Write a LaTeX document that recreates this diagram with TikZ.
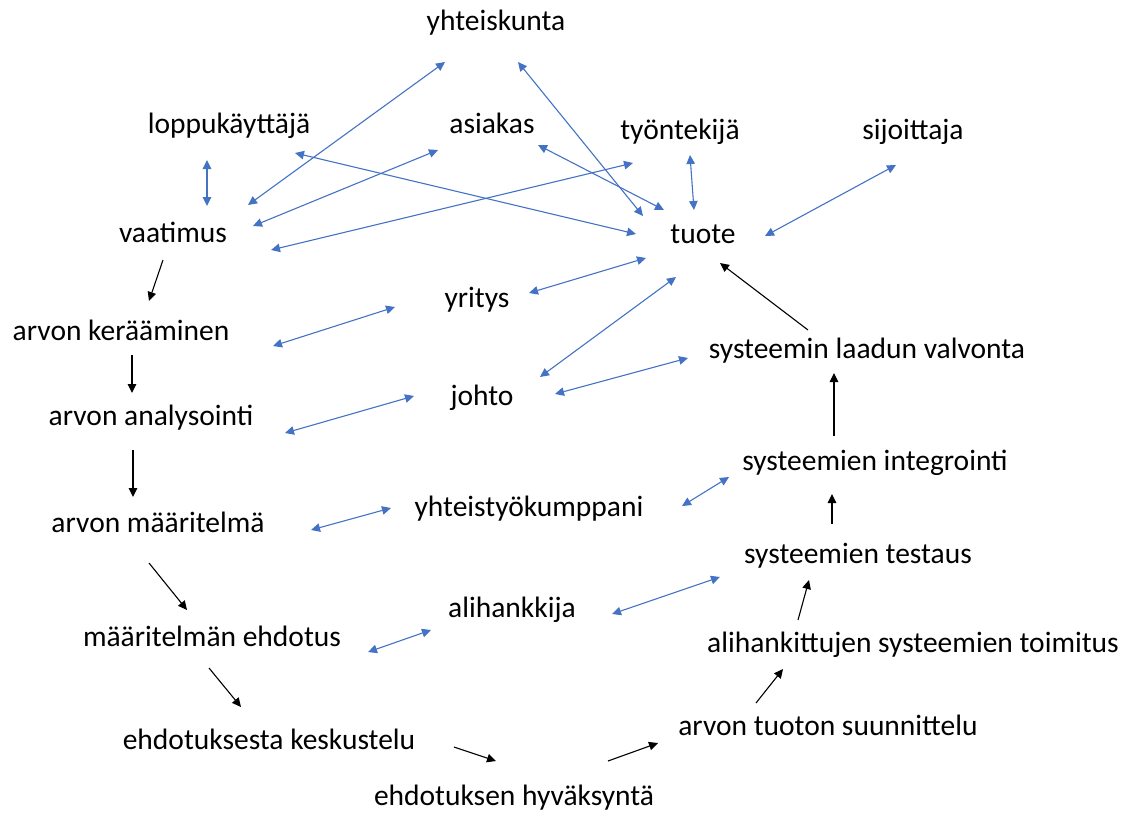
\documentclass[tikz,border=0pt]{standalone}
\usepackage{fontspec}
\setmainfont{Carlito}
\usetikzlibrary{arrows.meta}

\definecolor{linkblue}{HTML}{4472C4}

\tikzset{
  lbl/.style={inner sep=0pt, text height=22pt, text depth=7.4pt,
    font=\fontsize{29.5}{35}\selectfont},
  link/.style={linkblue, line width=1.1pt,
    {Triangle[length=9pt,width=8.5pt]}-{Triangle[length=9pt,width=8.5pt]}},
  flow/.style={black, line width=1.1pt, -{Triangle[length=9pt,width=8.5pt]}}
}

\begin{document}
\begin{tikzpicture}[x=1pt, y=-1pt]
\useasboundingbox (0,0) rectangle (1133,812);

% stakeholders
\node[lbl] (yhteiskunta) at (496,23) {yhteiskunta};
\node[lbl] (loppu) at (229,126) {loppukäyttäjä};
\node[lbl] (asiakas) at (492,126) {asiakas};
\node[lbl] (tyontekija) at (680,132) {työntekijä};
\node[lbl] (sijoittaja) at (913,132) {sijoittaja};
\node[lbl] (tuote) at (703,236) {tuote};
\node[lbl] (yritys) at (477,300) {yritys};
\node[lbl] (johto) at (482,398) {johto};
\node[lbl] (yhteistyo) at (529,509) {yhteistyökumppani};
\node[lbl] (alihankkija) at (512,610) {alihankkija};

% value chain
\node[lbl] (vaatimus) at (173,235) {vaatimus};
\node[lbl] (keraaminen) at (121,333) {arvon kerääminen};
\node[lbl] (analysointi) at (151,418) {arvon analysointi};
\node[lbl] (maaritelma) at (158,525) {arvon määritelmä};
\node[lbl] (ehdotus) at (212,639) {määritelmän ehdotus};
\node[lbl] (keskustelu) at (269,742) {ehdotuksesta keskustelu};
\node[lbl] (hyvaksynta) at (514,798) {ehdotuksen hyväksyntä};
\node[lbl] (suunnittelu) at (828,728) {arvon tuoton suunnittelu};
\node[lbl] (toimitus) at (913,645) {alihankittujen systeemien toimitus};
\node[lbl] (testaus) at (858,556) {systeemien testaus};
\node[lbl] (integrointi) at (875,463) {systeemien integrointi};
\node[lbl] (valvonta) at (867,351) {systeemin laadun valvonta};

% two-way links
\draw[link] ([shift={(-22,34)}]loppu.center) -- ([shift={(34,-29)}]vaatimus.center);
\draw[link] ([shift={(-51,39)}]yhteiskunta.center) -- ([shift={(75,-30)}]vaatimus.center);
\draw[link] ([shift={(22,39)}]yhteiskunta.center) -- ([shift={(-60,-20)}]tuote.center);
\draw[link] ([shift={(-54,24)}]asiakas.center) -- ([shift={(80,-9)}]vaatimus.center);
\draw[link] ([shift={(-47,31)}]tyontekija.center) -- ([shift={(98,15)}]vaatimus.center);
\draw[link] ([shift={(66,27)}]loppu.center) -- ([shift={(-67,-2)}]tuote.center);
\draw[link] ([shift={(46,19)}]asiakas.center) -- ([shift={(-39,-26)}]tuote.center);
\draw[link] ([shift={(10,23)}]tyontekija.center) -- ([shift={(-9,-26)}]tuote.center);
\draw[link] ([shift={(-17,33)}]sijoittaja.center) -- ([shift={(62,0)}]tuote.center);
\draw[link] ([shift={(52,-7)}]yritys.center) -- ([shift={(-57,22)}]tuote.center);
\draw[link] ([shift={(58,-21)}]johto.center) -- ([shift={(-27,41)}]tuote.center);
\draw[link] ([shift={(152,13)}]keraaminen.center) -- ([shift={(-82,7)}]yritys.center);
\draw[link] ([shift={(73,-4)}]johto.center) -- ([shift={(-179,7)}]valvonta.center);
\draw[link] ([shift={(134,15)}]analysointi.center) -- ([shift={(-68,-2)}]johto.center);
\draw[link] ([shift={(153,5)}]maaritelma.center) -- ([shift={(-138,-1)}]yhteistyo.center);
\draw[link] ([shift={(153,-3)}]yhteistyo.center) -- ([shift={(-146,14)}]integrointi.center);
\draw[link] ([shift={(100,4)}]alihankkija.center) -- ([shift={(-138,21)}]testaus.center);
\draw[link] ([shift={(156,13)}]ehdotus.center) -- ([shift={(-81,20)}]alihankkija.center);

% process flow
\draw[flow] ([shift={(-10,25)}]vaatimus.center) -- ([shift={(28,-32)}]keraaminen.center);
\draw[flow] ([shift={(11,22)}]keraaminen.center) -- ([shift={(-19,-25)}]analysointi.center);
\draw[flow] ([shift={(-18,32)}]analysointi.center) -- ([shift={(-25,-28)}]maaritelma.center);
\draw[flow] ([shift={(-9,38)}]maaritelma.center) -- ([shift={(-25,-29)}]ehdotus.center);
\draw[flow] ([shift={(-3,29)}]ehdotus.center) -- ([shift={(-28,-35)}]keskustelu.center);
\draw[flow] ([shift={(185,5)}]keskustelu.center) -- ([shift={(-18,-37)}]hyvaksynta.center);
\draw[flow] ([shift={(94,-37)}]hyvaksynta.center) -- ([shift={(-170,15)}]suunnittelu.center);
\draw[flow] ([shift={(-72,-25)}]suunnittelu.center) -- ([shift={(-130,24)}]toimitus.center);
\draw[flow] ([shift={(-115,-25)}]toimitus.center) -- ([shift={(-49,24)}]testaus.center);
\draw[flow] ([shift={(-26,-32)}]testaus.center) -- ([shift={(-43,31)}]integrointi.center);
\draw[flow] ([shift={(-41,-27)}]integrointi.center) -- ([shift={(-33,22)}]valvonta.center);
\draw[flow] ([shift={(-59,-21)}]valvonta.center) -- ([shift={(17,27)}]tuote.center);
\end{tikzpicture}
\end{document}
